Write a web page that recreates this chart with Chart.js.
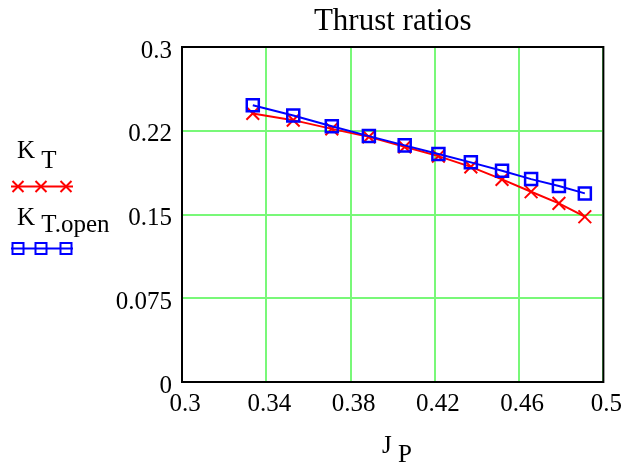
<!DOCTYPE html>
<html>
<head>
<meta charset="utf-8">
<script src="https://cdn.jsdelivr.net/npm/chart.js@4.4.1/dist/chart.umd.min.js"></script>
<style>
  html, body { margin: 0; padding: 0; background: #ffffff; }
  #wrap { width: 626px; height: 466px; }
</style>
</head>
<body>
<div id="wrap"><canvas id="thrust" width="626" height="466"></canvas></div>
<script>
// ------------------------------------------------------------
// Thrust ratios: K_T vs K_T.open over advance ratio J_P
// ------------------------------------------------------------

var jP = [0.3336, 0.3528, 0.3711, 0.3887, 0.4057, 0.4217, 0.4371, 0.4519, 0.4657, 0.4789, 0.4912];
var kT = [0.2405, 0.2345, 0.2267, 0.2195, 0.2106, 0.2023, 0.1927, 0.1815, 0.1704, 0.1600, 0.1480];
var kTOpen = [0.2479, 0.2387, 0.2291, 0.2202, 0.2119, 0.2041, 0.1967, 0.1892, 0.1817, 0.1755, 0.1689];

var xTickValues = [0.3, 0.34, 0.38, 0.42, 0.46, 0.5];
var xTickLabels = ['0.3', '0.34', '0.38', '0.42', '0.46', '0.5'];
var yTickValues = [0, 0.075, 0.15, 0.225, 0.3];
var yTickLabels = ['0', '0.075', '0.15', '0.22', '0.3'];

var SERIF = "'Liberation Serif', 'Times New Roman', serif";
var RED = '#ff0000';
var BLUE = '#0000ff';
var GRID = '#78f878';

function toPoints(xs, ys) {
    return xs.map(function (x, i) { return { x: x, y: ys[i] }; });
}

function fixedTicks(values) {
    return function (scale) {
        scale.ticks = values.map(function (v) { return { value: v }; });
    };
}

function labelFor(values, labels) {
    return function (value) {
        for (var i = 0; i < values.length; i++) {
            if (Math.abs(values[i] - value) < 1e-9) return labels[i];
        }
        return '';
    };
}

// text with a subscript part (same size, dropped down)
function subText(ctx, main, sub, x, y, drop) {
    ctx.fillText(main, x, y);
    var w = ctx.measureText(main + ' ').width;
    ctx.fillText(sub, x + w, y + drop);
}

function drawCross(ctx, x, y, r) {
    ctx.beginPath();
    ctx.moveTo(x - r, y - r); ctx.lineTo(x + r, y + r);
    ctx.moveTo(x + r, y - r); ctx.lineTo(x - r, y + r);
    ctx.stroke();
}

function drawSquare(ctx, x, y, r) {
    ctx.strokeRect(x - r, y - r, 2 * r, 2 * r);
}

var extrasPlugin = {
    id: 'extras',
    afterDraw: function (chart) {
        var ctx = chart.ctx;
        var a = chart.chartArea;
        ctx.save();

        // black frame round the plot
        ctx.strokeStyle = '#000000';
        ctx.lineWidth = 2;
        ctx.strokeRect(a.left, a.top, a.right - a.left, a.bottom - a.top);

        ctx.fillStyle = '#000000';
        ctx.textBaseline = 'alphabetic';

        // title, centred over plot area
        ctx.font = '31px ' + SERIF;
        ctx.textAlign = 'center';
        ctx.fillText('Thrust ratios', (a.left + a.right) / 2, 30);

        // x axis title J_P
        ctx.font = '25px ' + SERIF;
        ctx.textAlign = 'left';
        subText(ctx, 'J', 'P', 382, 453, 9);

        // legend
        subText(ctx, 'K', 'T', 17, 158, 10);
        subText(ctx, 'K', 'T.open', 17, 225, 7);

        ctx.lineWidth = 2;
        ctx.strokeStyle = RED;
        ctx.beginPath(); ctx.moveTo(11, 186.5); ctx.lineTo(73, 186.5); ctx.stroke();
        [18, 41, 66].forEach(function (x) { drawCross(ctx, x, 186.5, 5.5); });

        ctx.strokeStyle = BLUE;
        ctx.beginPath(); ctx.moveTo(11, 248.5); ctx.lineTo(73, 248.5); ctx.stroke();
        [18, 41, 66].forEach(function (x) { drawSquare(ctx, x, 248.5, 5.5); });

        ctx.restore();
    }
};

new Chart(document.getElementById('thrust'), {
    type: 'scatter',
    data: {
        datasets: [{
            label: 'K T',
            data: toPoints(jP, kT),
            showLine: true,
            borderColor: RED,
            backgroundColor: 'rgba(0,0,0,0)',
            borderWidth: 2,
            pointStyle: 'crossRot',
            pointRadius: 9,
            pointBorderWidth: 2,
            pointBorderColor: RED,
            order: 2
        }, {
            label: 'K T.open',
            data: toPoints(jP, kTOpen),
            showLine: true,
            borderColor: BLUE,
            backgroundColor: 'rgba(0,0,0,0)',
            borderWidth: 2,
            pointStyle: 'rect',
            pointRadius: 8.5,
            pointBorderWidth: 2.5,
            pointBorderColor: BLUE,
            pointBackgroundColor: 'rgba(0,0,0,0)',
            order: 1
        }]
    },
    options: {
        responsive: false,
        animation: false,
        devicePixelRatio: 1,
        layout: { padding: { top: 47, right: 20, left: 0, bottom: 0 } },
        plugins: {
            legend: { display: false },
            title: { display: false },
            tooltip: { enabled: false }
        },
        scales: {
            x: {
                type: 'linear',
                min: 0.3,
                max: 0.5,
                afterBuildTicks: fixedTicks(xTickValues),
                afterFit: function (scale) { scale.height = 84; },
                grid: { color: GRID, lineWidth: 2, drawTicks: false },
                border: { display: false },
                ticks: {
                    padding: 7,
                    labelOffset: 3,
                    color: '#000000',
                    maxRotation: 0,
                    autoSkip: false,
                    font: { family: SERIF, size: 25 },
                    callback: labelFor(xTickValues, xTickLabels)
                }
            },
            y: {
                type: 'linear',
                min: 0,
                max: 0.3,
                afterBuildTicks: fixedTicks(yTickValues),
                afterFit: function (scale) { scale.width = 182; },
                grid: { color: GRID, lineWidth: 2, drawTicks: false },
                border: { display: false },
                ticks: {
                    padding: 10,
                    labelOffset: 4,
                    color: '#000000',
                    autoSkip: false,
                    font: { family: SERIF, size: 25 },
                    callback: labelFor(yTickValues, yTickLabels)
                }
            }
        }
    },
    plugins: [extrasPlugin]
});
</script>
</body>
</html>
